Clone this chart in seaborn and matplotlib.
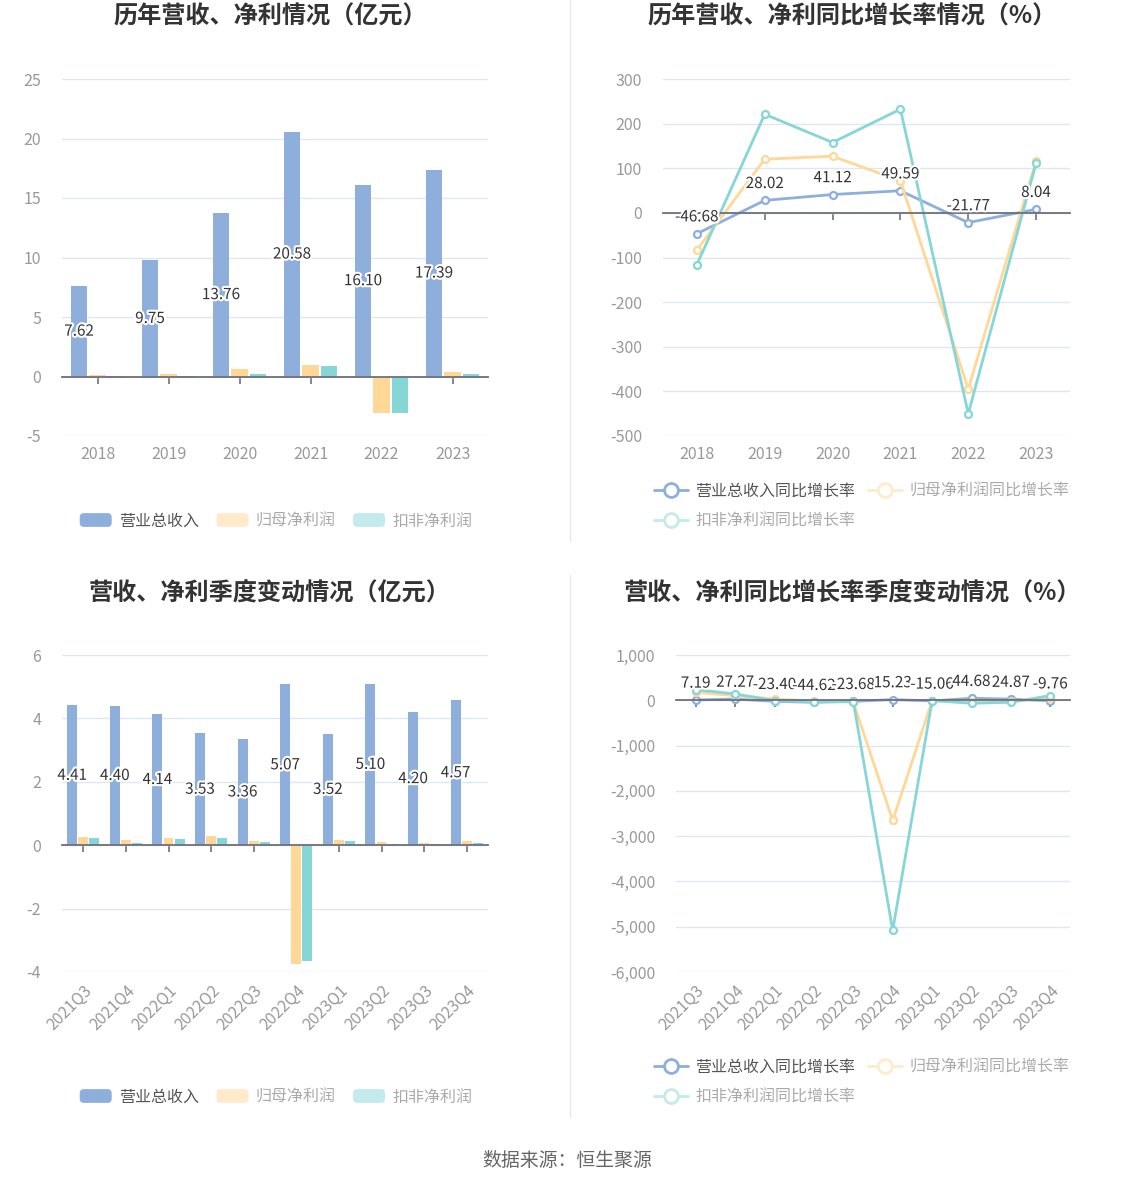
import numpy as np
import pandas as pd
import matplotlib
matplotlib.use('Agg')
import matplotlib.pyplot as plt
import matplotlib.patheffects as pe
from matplotlib.patches import FancyBboxPatch, Patch
from matplotlib.legend_handler import HandlerPatch
from matplotlib.lines import Line2D
from matplotlib.ticker import FuncFormatter
import seaborn as sns

# ---- data ----
years = ['2018', '2019', '2020', '2021', '2022', '2023']
year_revenue = [7.62, 9.75, 13.76, 20.58, 16.10, 17.39]
year_net = [0.10, 0.25, 0.60, 1.00, -3.08, 0.42]
year_deducted = [0.03, 0.08, 0.25, 0.87, -3.08, 0.25]

year_revenue_yoy = [-46.68, 28.02, 41.12, 49.59, -21.77, 8.04]
year_net_yoy = [-83.0, 120.3, 127.0, 71.7, -394.6, 116.6]
year_deducted_yoy = [-115.8, 221.0, 157.7, 232.4, -449.9, 111.4]

quarters = ['2021Q3', '2021Q4', '2022Q1', '2022Q2', '2022Q3',
            '2022Q4', '2023Q1', '2023Q2', '2023Q3', '2023Q4']
q_revenue = [4.41, 4.40, 4.14, 3.53, 3.36, 5.07, 3.52, 5.10, 4.20, 4.57]
q_net = [0.27, 0.15, 0.24, 0.29, 0.14, -3.76, 0.15, 0.10, 0.08, 0.12]
q_deducted = [0.24, 0.07, 0.18, 0.24, 0.10, -3.64, 0.14, 0.05, 0.05, 0.07]

q_revenue_yoy = [7.19, 27.27, -23.40, -44.62, -23.68, 15.23, -15.06, 44.68, 24.87, -9.76]
q_net_yoy = [176, 103, 30, -20, -40, -2654, -10, -30, -20, 60]
q_deducted_yoy = [235, 140, -7, -30, -30, -5081, -7, -66, -44, 103]

bar_names = ['营业总收入', '归母净利润', '扣非净利润']
line_names = ['营业总收入同比增长率', '归母净利润同比增长率', '扣非净利润同比增长率']
colors = ['#8EAEDC', '#FFD796', '#86D6D8']
faded = ['#8EAEDC', '#FFEBCC', '#C3EBEB']
legend_text = ['#555555', '#AAAAAA', '#AAAAAA']

sns.set_theme(style='white')
plt.rcParams['font.family'] = ['Noto Sans CJK SC', 'DejaVu Sans']
plt.rcParams['axes.unicode_minus'] = False

W, H = 1134, 1188
fig = plt.figure(figsize=(W / 100, H / 100), dpi=100)

GRID = '#E0E6F1'
AXIS = '#6E7079'
TICK = '#999999'
halo = [pe.withStroke(linewidth=3, foreground='white')]


def px_axes(x0, y0, x1, y1):
    return fig.add_axes([x0 / W, 1 - y1 / H, (x1 - x0) / W, (y1 - y0) / H])


def style_axes(ax, cats, ylim, yticks, rotate=False, fmt=None):
    for s in ['left', 'right', 'bottom']:
        ax.spines[s].set_visible(False)
    ax.spines['top'].set_visible(True)
    ax.spines['top'].set_position(('data', 0))
    ax.spines['top'].set_color(AXIS)
    ax.spines['top'].set_linewidth(1.3)
    ax.set_ylim(*ylim)
    ax.set_yticks(yticks)
    if fmt:
        ax.yaxis.set_major_formatter(FuncFormatter(fmt))
    ax.set_xlim(-0.5, len(cats) - 0.5)
    ax.set_xticks(range(len(cats)))
    ax.set_xticklabels(cats)
    ax.tick_params(axis='x', bottom=False, top=True, labelbottom=True, labeltop=False,
                   direction='in', length=5, width=1.2, color=AXIS,
                   labelcolor=TICK, labelsize=11.5, pad=7)
    ax.tick_params(axis='y', left=False, labelcolor=TICK, labelsize=11.5, pad=9)
    if rotate:
        for lab in ax.get_xticklabels():
            lab.set_rotation(45)
            lab.set_ha('right')
            lab.set_rotation_mode('anchor')
    ax.yaxis.grid(True, color=GRID, lw=1)
    ax.xaxis.grid(False)
    ax.set_axisbelow(True)
    ax.set_xlabel('')
    ax.set_ylabel('')


def bar_panel(ax, cats, rev, net, ded, ylim, yticks):
    n = len(cats)
    df = pd.DataFrame({
        'cat': cats * 3,
        'value': list(rev) + list(net) + list(ded),
        'series': [bar_names[0]] * n + [bar_names[1]] * n + [bar_names[2]] * n,
    })
    sns.barplot(data=df, x='cat', y='value', hue='series', hue_order=bar_names,
                palette=colors, width=0.78, gap=0.1, saturation=1, linewidth=0,
                legend=False, ax=ax)
    labels = ax.bar_label(ax.containers[0], labels=[f'{v:.2f}' for v in rev],
                          label_type='center', color='#333333', fontsize=11)
    for t in labels:
        t.set_path_effects(halo)
    style_axes(ax, cats, ylim, yticks, rotate=(n > 6))


def line_panel(ax, cats, s1, s2, s3, ylim, yticks, fmt=None):
    n = len(cats)
    df = pd.DataFrame({
        'cat': cats * 3,
        'value': list(s1) + list(s2) + list(s3),
        'series': [line_names[0]] * n + [line_names[1]] * n + [line_names[2]] * n,
    })
    sns.lineplot(data=df, x='cat', y='value', hue='series', hue_order=line_names,
                 palette=colors, marker='o', markersize=5, markerfacecolor='white',
                 markeredgewidth=1.6, linewidth=2, sort=False, legend=False, ax=ax)
    for ln in ax.lines:
        ln.set_markeredgecolor(ln.get_color())
    for i, v in enumerate(s1):
        ax.annotate(f'{v:.2f}', (i, v), xytext=(0, 6), textcoords='offset points',
                    ha='center', va='bottom', color='#333333', fontsize=11,
                    path_effects=halo)
    style_axes(ax, cats, ylim, yticks, rotate=(n > 6), fmt=fmt)


ax1 = px_axes(62, 79, 488, 436)
bar_panel(ax1, years, year_revenue, year_net, year_deducted, (-5, 25), range(-5, 26, 5))

ax2 = px_axes(663, 79, 1070, 436)
line_panel(ax2, years, year_revenue_yoy, year_net_yoy, year_deducted_yoy,
           (-500, 300), range(-500, 301, 100))

ax3 = px_axes(62, 655, 488, 972)
bar_panel(ax3, quarters, q_revenue, q_net, q_deducted, (-4, 6), range(-4, 7, 2))

ax4 = px_axes(676, 655, 1070, 972)
line_panel(ax4, quarters, q_revenue_yoy, q_net_yoy, q_deducted_yoy,
           (-6000, 1000), range(-6000, 1001, 1000), fmt=lambda v, _: f'{v:,.0f}')

# ---- titles ----
title_kw = dict(ha='center', va='center', fontsize=17.4, fontweight='bold', color='#333333')
fig.text(270 / W, 1 - 17 / H, '历年营收、净利情况（亿元）', **title_kw)
fig.text(852 / W, 1 - 17 / H, '历年营收、净利同比增长率情况（%）', **title_kw)
fig.text(270 / W, 1 - 593 / H, '营收、净利季度变动情况（亿元）', **title_kw)
fig.text(852 / W, 1 - 593 / H, '营收、净利同比增长率季度变动情况（%）', **title_kw)


# ---- legends ----
def round_patch(legend, orig_handle, xdescent, ydescent, width, height, fontsize):
    return FancyBboxPatch((-xdescent, -ydescent), width, height,
                          boxstyle='round,pad=0,rounding_size=3')


for y in (521, 1097):
    handles = [Patch(facecolor=c, edgecolor='none') for c in faded]
    leg = fig.legend(handles, bar_names, loc='center', bbox_to_anchor=(276 / W, 1 - y / H),
                     ncol=3, frameon=False, fontsize=11.5, handlelength=2.0,
                     handleheight=0.95, handletextpad=0.45, columnspacing=1.1,
                     borderpad=0, handler_map={Patch: HandlerPatch(patch_func=round_patch)})
    for t, c in zip(leg.get_texts(), legend_text):
        t.set_color(c)

for y in (506, 1082):
    handles = [Line2D([], [], color=c, lw=2, marker='o', markersize=10,
                      markerfacecolor='white', markeredgewidth=2, markeredgecolor=c)
               for c in faded]
    order = [0, 2, 1]
    leg = fig.legend([handles[i] for i in order], [line_names[i] for i in order],
                     loc='center left', bbox_to_anchor=(646 / W, 1 - y / H), ncol=2,
                     frameon=False, fontsize=11.5, handlelength=2.1, handletextpad=0.5,
                     columnspacing=0.8, labelspacing=0.85, borderpad=0)
    for t, i in zip(leg.get_texts(), order):
        t.set_color(legend_text[i])

# ---- separators and footer ----
fig.add_artist(Line2D([570 / W, 570 / W], [1, 1 - 541 / H], color='#E8E8E8', lw=1))
fig.add_artist(Line2D([570 / W, 570 / W], [1 - 575 / H, 1 - 1117 / H], color='#E8E8E8', lw=1))
fig.text(567 / W, 1 - 1161 / H, '数据来源：恒生聚源', ha='center', va='center',
         fontsize=13.6, color='#666666')

fig.savefig('out.png', dpi=100, facecolor='white')
